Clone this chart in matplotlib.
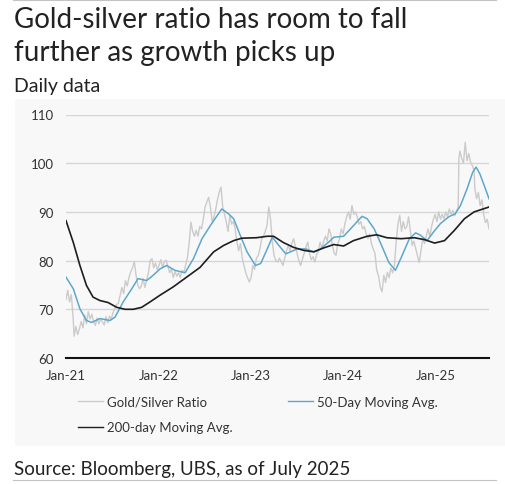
import numpy as np
import pandas as pd
import matplotlib
matplotlib.use("Agg")
import matplotlib.pyplot as plt
import matplotlib.dates as mdates
from matplotlib.patches import Rectangle
from matplotlib.lines import Line2D

plt.rcParams["font.family"] = ["Lato", "DejaVu Sans"]

TITLE = "Gold-silver ratio has room to fall\nfurther as growth picks up"
SUBTITLE = "Daily data"
SOURCE = "Source: Bloomberg, UBS, as of July 2025"
LABELS = ["Gold/Silver Ratio", "50-Day Moving Avg.", "200-day Moving Avg."]

# gold/silver ratio (roughly weekly)
RATIO_DATES = [
    "2021-01-01", "2021-01-08", "2021-01-15", "2021-01-22", "2021-01-29", "2021-02-02", "2021-02-09", "2021-02-16",
    "2021-02-23", "2021-03-02", "2021-03-09", "2021-03-16", "2021-03-23", "2021-03-30", "2021-04-06", "2021-04-13",
    "2021-04-20", "2021-04-27", "2021-05-04", "2021-05-11", "2021-05-18", "2021-05-25", "2021-06-01", "2021-06-08",
    "2021-06-15", "2021-06-22", "2021-06-29", "2021-07-06", "2021-07-13", "2021-07-20", "2021-07-27", "2021-08-03",
    "2021-08-10", "2021-08-17", "2021-08-24", "2021-08-31", "2021-09-07", "2021-09-14", "2021-09-21", "2021-09-28",
    "2021-10-05", "2021-10-12", "2021-10-19", "2021-10-26", "2021-11-02", "2021-11-09", "2021-11-16", "2021-11-23",
    "2021-11-30", "2021-12-07", "2021-12-14", "2021-12-21", "2021-12-28", "2022-01-04", "2022-01-11", "2022-01-18",
    "2022-01-25", "2022-02-01", "2022-02-08", "2022-02-15", "2022-02-22", "2022-03-01", "2022-03-08", "2022-03-15",
    "2022-03-22", "2022-03-29", "2022-04-05", "2022-04-12", "2022-04-19", "2022-04-26", "2022-05-03", "2022-05-10",
    "2022-05-17", "2022-05-24", "2022-05-31", "2022-06-07", "2022-06-14", "2022-06-21", "2022-06-28", "2022-07-05",
    "2022-07-12", "2022-07-19", "2022-07-26", "2022-08-02", "2022-08-09", "2022-08-16", "2022-08-23", "2022-08-30",
    "2022-09-06", "2022-09-13", "2022-09-20", "2022-09-27", "2022-10-04", "2022-10-11", "2022-10-18", "2022-10-25",
    "2022-11-01", "2022-11-08", "2022-11-15", "2022-11-22", "2022-11-29", "2022-12-06", "2022-12-13", "2022-12-20",
    "2022-12-27", "2023-01-03", "2023-01-10", "2023-01-17", "2023-01-24", "2023-01-31", "2023-02-07", "2023-02-14",
    "2023-02-21", "2023-02-28", "2023-03-07", "2023-03-14", "2023-03-21", "2023-03-28", "2023-04-04", "2023-04-11",
    "2023-04-18", "2023-04-25", "2023-05-02", "2023-05-09", "2023-05-16", "2023-05-23", "2023-05-30", "2023-06-06",
    "2023-06-13", "2023-06-20", "2023-06-27", "2023-07-04", "2023-07-11", "2023-07-18", "2023-07-25", "2023-08-01",
    "2023-08-08", "2023-08-15", "2023-08-22", "2023-08-29", "2023-09-05", "2023-09-12", "2023-09-19", "2023-09-26",
    "2023-10-03", "2023-10-10", "2023-10-17", "2023-10-24", "2023-10-31", "2023-11-07", "2023-11-14", "2023-11-21",
    "2023-11-28", "2023-12-05", "2023-12-12", "2023-12-19", "2023-12-26", "2024-01-02", "2024-01-09", "2024-01-16",
    "2024-01-23", "2024-01-30", "2024-02-06", "2024-02-13", "2024-02-20", "2024-02-27", "2024-03-05", "2024-03-12",
    "2024-03-19", "2024-03-26", "2024-04-02", "2024-04-09", "2024-04-16", "2024-04-23", "2024-04-30", "2024-05-07",
    "2024-05-14", "2024-05-21", "2024-05-28", "2024-06-04", "2024-06-11", "2024-06-18", "2024-06-25", "2024-07-02",
    "2024-07-09", "2024-07-16", "2024-07-23", "2024-07-30", "2024-08-06", "2024-08-13", "2024-08-20", "2024-08-27",
    "2024-09-03", "2024-09-10", "2024-09-17", "2024-09-24", "2024-10-01", "2024-10-08", "2024-10-15", "2024-10-22",
    "2024-10-29", "2024-11-05", "2024-11-12", "2024-11-19", "2024-11-26", "2024-12-03", "2024-12-10", "2024-12-17",
    "2024-12-24", "2024-12-31", "2025-01-07", "2025-01-14", "2025-01-21", "2025-01-28", "2025-02-04", "2025-02-11",
    "2025-02-18", "2025-02-25", "2025-03-04", "2025-03-11", "2025-03-18", "2025-03-25", "2025-04-01", "2025-04-04",
    "2025-04-08", "2025-04-15", "2025-04-22", "2025-04-29", "2025-05-06", "2025-05-13", "2025-05-20", "2025-05-27",
    "2025-06-03", "2025-06-06", "2025-06-13", "2025-06-20", "2025-06-27", "2025-07-04", "2025-07-11", "2025-07-18",
    "2025-07-25", "2025-08-01",
]
RATIO_VALUES = [
    72.0, 73.9, 71.5, 73.0, 68.5, 64.5, 66.5, 64.8,
    66.0, 67.5, 66.2, 68.8, 67.0, 69.5, 68.0, 69.0,
    67.5, 66.7, 68.2, 67.0, 68.0, 67.4, 66.8, 68.5,
    67.2, 68.6, 68.0, 69.3, 70.2, 71.0, 71.2, 72.8,
    74.5, 73.2, 75.9, 74.8, 76.5, 77.7, 78.5, 79.8,
    77.0, 75.0, 74.2, 74.8, 76.3, 74.5, 76.0, 77.5,
    80.0, 80.4, 78.5, 79.5, 78.2, 79.0, 80.2, 78.5,
    79.8, 80.1, 78.8, 77.5, 78.3, 76.5, 77.8, 76.8,
    77.5, 76.5, 78.0, 77.5, 79.0, 80.5, 83.5, 87.9,
    86.0, 85.0, 86.2, 85.0, 87.0, 86.5, 88.5, 91.0,
    92.0, 93.0, 91.0, 88.0, 89.0, 90.5, 92.5, 94.0,
    95.1, 91.0, 89.5, 87.9, 86.0, 89.3, 87.5, 88.0,
    86.5, 83.8, 82.0, 83.5, 80.5, 79.0, 77.5, 76.5,
    75.6, 76.5, 79.0, 78.2, 80.5, 81.0, 82.4, 84.5,
    85.0, 86.0, 87.2, 91.0, 88.5, 83.8, 81.0, 80.0,
    79.7, 80.5, 79.8, 79.0, 80.5, 82.0, 83.1, 82.0,
    83.5, 84.5, 83.0, 81.5, 80.0, 79.0, 80.3, 81.5,
    82.8, 83.8, 81.5, 80.2, 80.8, 79.7, 81.2, 82.0,
    83.8, 82.5, 84.0, 85.0, 84.0, 86.5, 85.5, 83.0,
    81.5, 81.1, 83.5, 84.5, 86.5, 85.5, 87.5, 89.0,
    90.0, 88.5, 91.3, 89.5, 90.0, 89.0, 87.5, 88.0,
    86.5, 87.0, 85.5, 84.5, 85.5, 83.5, 82.4, 81.5,
    78.0, 76.9, 74.5, 73.6, 77.0, 75.5, 77.6, 76.5,
    78.5, 77.5, 79.0, 84.0, 87.5, 89.3, 86.0, 88.0,
    86.5, 87.0, 89.0, 86.0, 83.1, 84.0, 82.5, 81.0,
    79.6, 82.0, 84.5, 83.5, 85.0, 86.5, 85.0, 87.0,
    88.5, 89.5, 88.0, 90.0, 88.5, 89.5, 88.6, 90.0,
    89.0, 90.6, 89.5, 90.3, 89.2, 90.0, 91.0, 100.9,
    102.5, 101.0, 100.0, 104.3, 100.5, 102.0, 100.2, 99.5,
    98.5, 94.7, 92.7, 94.0, 91.3, 92.5, 89.5, 87.8,
    88.5, 86.5,
]

MA50_DATES = [
    "2021-01-01", "2021-01-30", "2021-02-25", "2021-03-23", "2021-04-12", "2021-05-15", "2021-06-24", "2021-07-14",
    "2021-08-15", "2021-09-18", "2021-10-13", "2021-11-16", "2021-12-12", "2022-01-08", "2022-02-03", "2022-03-08",
    "2022-04-17", "2022-05-20", "2022-06-23", "2022-07-26", "2022-09-09", "2022-10-06", "2022-10-26", "2022-11-21",
    "2022-12-18", "2023-01-20", "2023-02-10", "2023-03-08", "2023-03-28", "2023-04-23", "2023-05-20", "2023-06-08",
    "2023-07-05", "2023-08-07", "2023-09-08", "2023-10-04", "2023-11-06", "2023-11-26", "2024-01-04", "2024-01-31",
    "2024-03-17", "2024-04-06", "2024-05-04", "2024-05-30", "2024-07-01", "2024-07-27", "2024-08-22", "2024-09-20",
    "2024-10-15", "2024-11-03", "2024-11-29", "2024-12-25", "2025-01-21", "2025-02-23", "2025-03-20", "2025-04-10",
    "2025-05-06", "2025-05-29", "2025-06-11", "2025-06-26", "2025-07-16", "2025-08-01",
]
MA50_VALUES = [
    76.6, 74.2, 70.1, 67.7, 67.3, 68.1, 67.7, 68.4,
    71.5, 74.2, 76.3, 75.9, 77.0, 78.3, 79.0, 78.0,
    77.5, 80.4, 84.5, 87.2, 90.6, 89.6, 88.6, 85.2,
    81.8, 79.0, 79.4, 82.4, 84.8, 83.1, 81.4, 81.8,
    82.4, 82.4, 81.8, 82.4, 83.8, 84.8, 85.0, 86.5,
    89.1, 88.6, 86.5, 83.5, 79.6, 78.0, 81.0, 84.5,
    85.7, 85.2, 84.1, 85.9, 87.6, 89.0, 89.6, 91.3,
    94.7, 98.2, 99.2, 97.8, 95.0, 92.7,
]

MA200_DATES = [
    "2021-01-01", "2021-01-30", "2021-02-25", "2021-03-23", "2021-04-18", "2021-05-15", "2021-06-16", "2021-07-21",
    "2021-08-23", "2021-09-24", "2021-10-27", "2021-11-29", "2022-01-08", "2022-03-01", "2022-04-23", "2022-06-15",
    "2022-08-08", "2022-09-16", "2022-10-26", "2022-11-27", "2023-01-25", "2023-03-08", "2023-04-02", "2023-05-11",
    "2023-06-21", "2023-07-30", "2023-09-08", "2023-10-17", "2023-11-26", "2024-01-04", "2024-02-12", "2024-04-06",
    "2024-05-14", "2024-06-23", "2024-08-18", "2024-10-10", "2024-11-19", "2024-12-29", "2025-02-06", "2025-03-17",
    "2025-04-26", "2025-06-03", "2025-08-01",
]
MA200_VALUES = [
    88.2, 83.7, 79.0, 74.9, 72.5, 71.8, 71.4, 70.4,
    70.0, 70.0, 70.4, 71.5, 72.9, 74.6, 76.6, 78.6,
    81.8, 83.1, 84.1, 84.6, 84.7, 85.0, 85.0, 83.7,
    82.7, 82.1, 81.8, 82.6, 83.3, 83.0, 84.1, 85.0,
    85.3, 84.7, 84.5, 84.7, 84.3, 83.6, 84.1, 86.2,
    88.6, 90.0, 91.0,
]

Y_TICKS = [60, 70, 80, 90, 100, 110]
X_TICKS = ["2021-01-01", "2022-01-01", "2023-01-01", "2024-01-01", "2025-01-01"]

GRAY = "#cbcbcb"
BLUE = "#5ea7cc"
BLACK = "#1e1e1e"
TEXT = "#222222"

W, H = 505, 485
fig = plt.figure(figsize=(W / 100, H / 100), dpi=100)

# light panel behind the chart
fig.patches.append(Rectangle((15 / W, 1 - 447 / H), 1 - 15 / W, (447 - 100) / H,
                             transform=fig.transFigure, facecolor="#f8f8f8",
                             edgecolor="none", zorder=-5))
# thin rules top and bottom
for yy in (1, 481):
    fig.add_artist(Line2D([13 / W, 496 / W], [1 - yy / H, 1 - yy / H],
                          transform=fig.transFigure, color="#c4c4c4", lw=0.8))

fig.text(14 / W, 1 - 28 / H, TITLE.split("\n")[0], fontsize=20, color=TEXT, va="baseline")
fig.text(14 / W, 1 - 61 / H, TITLE.split("\n")[1], fontsize=20, color=TEXT, va="baseline")
fig.text(14 / W, 1 - 92 / H, SUBTITLE, fontsize=14, color=TEXT, va="baseline")
fig.text(14 / W, 1 - 475 / H, SOURCE, fontsize=13.5, color=TEXT, va="baseline")

ax = fig.add_axes([66 / W, 1 - 359 / H, (489 - 66) / W, (359 - 115.5) / H])
ax.set_facecolor("none")
ax.set_zorder(2)

ratio_d = pd.to_datetime(RATIO_DATES)
ma50_d = pd.to_datetime(MA50_DATES)
ma200_d = pd.to_datetime(MA200_DATES)

l1, = ax.plot(ratio_d, RATIO_VALUES, color=GRAY, lw=1.0, zorder=2)
l2, = ax.plot(ma50_d, MA50_VALUES, color=BLUE, lw=1.1, zorder=3)
l3, = ax.plot(ma200_d, MA200_VALUES, color=BLACK, lw=1.2, zorder=4)

ax.set_ylim(60, 110)
ax.set_yticks(Y_TICKS)
ax.set_xlim(ratio_d[0], ratio_d[-1])
ax.set_xticks(pd.to_datetime(X_TICKS))
ax.xaxis.set_major_formatter(mdates.DateFormatter("%b-%y"))

for v in Y_TICKS[1:]:
    ax.axhline(v, color="#d6d6d6", lw=1.0, zorder=1)
for s in ("top", "right", "left"):
    ax.spines[s].set_visible(False)
ax.spines["bottom"].set_color("#111111")
ax.spines["bottom"].set_linewidth(1.5)
ax.tick_params(axis="both", length=0, labelsize=9.5, labelcolor="#333333")
ax.tick_params(axis="y", pad=9)
ax.tick_params(axis="x", pad=8)

# column-first fill: col 1 = ratio + 200d, col 2 = 50d
leg = fig.legend([l1, l3, l2], [LABELS[0], LABELS[2], LABELS[1]], loc="upper left",
                 bbox_to_anchor=(78 / W, 1 - 397 / H), ncol=2, frameon=False, fontsize=9.5,
                 handlelength=1.9, handletextpad=0.3, columnspacing=4.2, labelspacing=1.0,
                 borderpad=0, borderaxespad=0, labelcolor="#333333")
for h in leg.legend_handles:
    h.set_linewidth(1.0)

fig.savefig("out.png", dpi=100)
